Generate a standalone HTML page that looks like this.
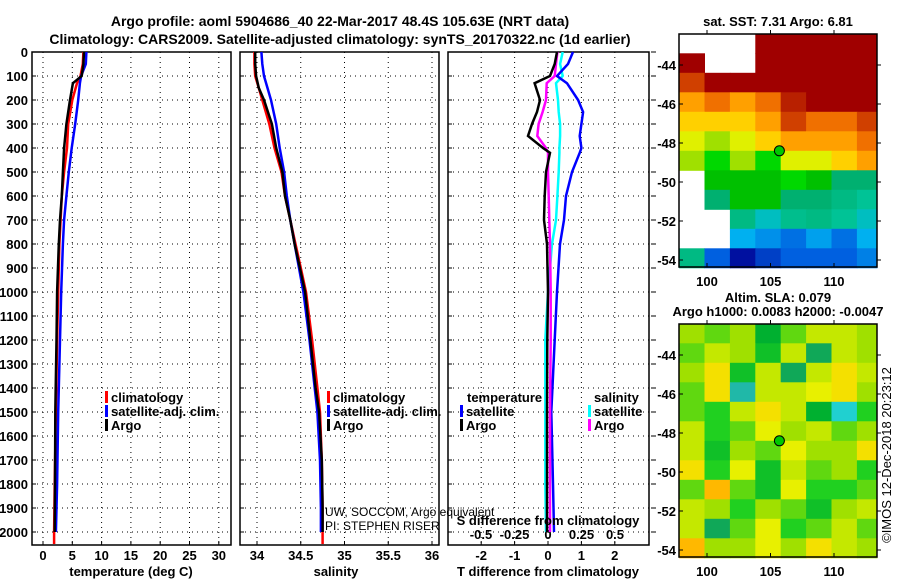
<!DOCTYPE html>
<html><head><meta charset="utf-8"><style>
html,body{margin:0;padding:0;background:#fff}
svg{display:block;font-family:"Liberation Sans",sans-serif}
text{font-weight:bold;font-size:13px;fill:#000}
</style></head><body>
<svg id="c" width="900" height="580" viewBox="0 0 900 580" xmlns="http://www.w3.org/2000/svg">
<text x="340" y="26" text-anchor="middle" style="font-size:14px">Argo profile: aoml 5904686_40 22-Mar-2017 48.4S 105.63E (NRT data)</text>
<text x="340" y="44" text-anchor="middle" style="font-size:14px">Climatology: CARS2009. Satellite-adjusted climatology: synTS_20170322.nc (1d earlier)</text>
<g id="g"></g>
</svg>
<script>
// ---------- data ----------
const depthT=[0,50,100,130,200,300,400,500,600,700,800,1000,1200,1500,1800,2000];
const tempArgo=[7.0,6.9,6.6,5.1,4.6,4.0,3.6,3.4,3.2,2.9,2.7,2.4,2.3,2.1,2.05,2.0];
const tempClim=[6.9,6.8,6.4,5.8,5.0,4.3,4.1,3.6,3.2,3.0,2.8,2.6,2.4,2.2,2.0,1.9];
const tempSat=[7.4,7.3,6.5,6.3,6.0,5.5,4.9,4.4,4.0,3.6,3.4,3.1,2.9,2.6,2.4,2.2];
const depthS=[0,50,100,150,200,300,400,500,600,700,800,900,1000,1200,1400,1500,1700,1900,2000];
const salArgo=[33.98,33.98,33.99,34.02,34.08,34.17,34.22,34.29,34.32,34.38,34.43,34.49,34.55,34.61,34.67,34.71,34.74,34.75,34.75];
const salClim=[33.97,33.97,33.98,34.02,34.06,34.14,34.2,34.28,34.32,34.38,34.44,34.5,34.56,34.63,34.69,34.72,34.74,34.75,34.75];
const salSat=[34.05,34.06,34.08,34.12,34.16,34.22,34.26,34.31,34.34,34.38,34.43,34.48,34.53,34.6,34.66,34.69,34.72,34.73,34.73];
const depthD=[0,50,100,130,200,250,300,350,400,420,500,600,700,800,1000,1200,1500,1800,2000];
const dTArgo=[0.27,0.2,0.06,-0.4,-0.24,-0.33,-0.48,-0.6,-0.15,0.06,-0.06,-0.1,-0.12,-0.03,0,-0.02,-0.03,-0.03,-0.03];
const dSArgo=[0.07,0.06,0.05,-0.01,-0.015,-0.04,-0.07,-0.08,-0.015,0,0,0.005,0.01,0.015,0.02,0.02,0.015,0.015,0.015];
const dSSat=[0.11,0.09,0.11,0.06,0.075,0.08,0.09,0.09,0.085,0.085,0.08,0.07,0.06,0.03,0,-0.02,-0.02,-0.02,-0.015];
const dTSat=[0.75,0.6,0.27,0.57,0.9,1.05,1.0,0.95,1.0,0.95,0.72,0.54,0.48,0.36,0.27,0.2,0.1,0.15,0.18];
const depthTicks=[0,100,200,300,400,500,600,700,800,900,1000,1100,1200,1300,1400,1500,1600,1700,1800,1900,2000];
const tempTicks=[0,5,10,15,20,25,30];
const salTicks=[34,34.5,35,35.5,36];
const salTickLabels=["34","34.5","35","35.5","36"];
const dTTicks=[-2,-1,0,1,2];
const dSTicks=[-0.5,-0.25,0,0.25,0.5];
const dSTickLabels=["-0.5","-0.25","0","0.25","0.5"];
const mapLonTicks=[100,105,110];
const mapLatTicks=[-44,-46,-48,-50,-52,-54];
const floatLon=105.7, floatLat=-48.4;
// SST grid: rows 1deg lat from -42.4, cols 2deg lon from 97.8 (0 = missing)
const sstGrid=[
[0,0,0,10,10,10,10,10],
[10,0,0,10,10,10,10,10],
[9,10,10,10,10,10,10,10],
[8,8.5,8,8.5,9.5,10,10,10],
[7.5,7.5,7.5,8,9,8.5,8.5,9],
[7,6.5,7,7.5,8,8,8,8.5],
[6.5,6,6.5,6,7,7,7.5,8],
[0,5.5,5.5,5.5,6,5.5,5,5],
[0,5,5.5,5.5,5,5,4.8,4.6],
[0,0,4.8,4.3,4.7,4.8,4.6,4.3],
[0,0,4,3.8,3.6,3.9,3.6,4],
[4.8,3.5,3,3.3,3.5,3.5,3.5,3.7]];
const slaGrid=[
[0.2,0.1,0.2,-0.2,0.1,0.3,0.3,0.2],
[0.1,0.3,0.2,-0.1,0.3,-0.3,0.3,0.2],
[0.2,0.5,-0.1,0.3,-0.3,0.3,0.5,0.3],
[0.1,0.5,-0.5,0.3,0.3,0.4,0.5,0.2],
[0.1,0,0.3,0.5,0.3,-0.2,-0.6,0],
[0.3,0,0.1,0.4,0.2,0.3,0.1,0.2],
[0.3,-0.1,0.2,0.1,0.4,0.2,0.2,0.5],
[0.5,0,0.4,-0.1,0.3,0.1,0.2,0],
[0.1,0.7,0.1,-0.1,0.4,0,0,0.1],
[0.3,0.2,0,0.2,0.1,-0.1,0.2,0.3],
[0.3,-0.3,0.1,0.4,0,0.1,0.3,0.1],
[0.7,0.2,0.2,0.4,0.2,0.5,0.3,0.2]];

// ---------- helpers ----------
const NS="http://www.w3.org/2000/svg";
const G=document.getElementById('g');
function el(tag,attrs,parent){const e=document.createElementNS(NS,tag);for(const k in attrs)e.setAttribute(k,attrs[k]);(parent||G).appendChild(e);return e;}
function txt(x,y,s,anchor,style,parent){const t=el('text',{x:x,y:y,'text-anchor':anchor||'middle'},parent);if(style)t.setAttribute('style',style);t.textContent=s;return t;}
const TOP=52, BOT=545;
const yD=d=>TOP+0.24*d;
const panels=[
 {x0:32,x1:231,f:v=>43+5.86*v,name:'temperature-panel'},
 {x0:240,x1:439,f:v=>257+87.5*(v-34),name:'salinity-panel'},
 {x0:448,x1:649,f:v=>548+33.4*v,name:'difference-panel'}];
function gridPanel(p,xt){
 const g=el('g',{});
 
 
 depthTicks.forEach(d=>{const l=el('line',{x1:p.x0,x2:p.x1,y1:yD(d),y2:yD(d),stroke:'#000','stroke-width':1,'stroke-dasharray':'1,4'},g);
  
  el('line',{x1:p.x0,x2:p.x0+4,y1:yD(d),y2:yD(d),stroke:'#000'},g);});
 xt.forEach(v=>{const x=p.f(v);const l=el('line',{x1:x,x2:x,y1:TOP,y2:BOT,stroke:'#000','stroke-width':1,'stroke-dasharray':'1,4'},g);
  
  el('line',{x1:x,x2:x,y1:BOT,y2:BOT-4,stroke:'#000'},g);});
 const r=el('rect',{x:p.x0,y:TOP,width:p.x1-p.x0,height:BOT-TOP,fill:'none',stroke:'#000','stroke-width':1.5},g);
 
 return g;}
function line(p,xs,ds,color,name){
 const pts=xs.map((v,i)=>p.f(v).toFixed(1)+','+yD(ds[i]).toFixed(1)).join(' ');
 const l=el('polyline',{points:pts,fill:'none',stroke:color,'stroke-width':2.5,'stroke-linejoin':'miter'});
 
 }

// panel 1
gridPanel(panels[0],tempTicks);
depthTicks.forEach(d=>{const t=txt(28,yD(d)+5,String(d),'end');});
tempTicks.forEach(v=>{const t=txt(panels[0].f(v),560,String(v));});
line(panels[0],tempClim.concat([1.9]),depthT.concat([2050]),'#f00','temperature-climatology-line');
line(panels[0],tempSat,depthT,'#00f','temperature-satellite-line');
line(panels[0],tempArgo,depthT,'#000','temperature-argo-line');
// panel 2
gridPanel(panels[1],salTicks);
salTicks.forEach((v,i)=>{const t=txt(panels[1].f(v),560,salTickLabels[i]);});
line(panels[1],salClim.concat([34.75]),depthS.concat([2050]),'#f00','salinity-climatology-line');
line(panels[1],salSat,depthS,'#00f','salinity-satellite-line');
line(panels[1],salArgo,depthS,'#000','salinity-argo-line');
// panel 3
gridPanel(panels[2],dTTicks);
depthTicks.forEach(d=>el('line',{x1:651,x2:656,y1:yD(d),y2:yD(d),stroke:'#000'}));
dTTicks.forEach(v=>{const t=txt(panels[2].f(v),560,String(v));});
const fS=v=>548+134*v;
dSTicks.forEach((v,i)=>{const t=txt(fS(v),539,dSTickLabels[i]);});
line({f:fS},dSSat,depthD,'#0ff','salinity-diff-satellite-line');
line(panels[2],dTSat,depthD,'#00f','temperature-diff-satellite-line');
line({f:fS},dSArgo,depthD,'#f0f','salinity-diff-argo-line');
line(panels[2],dTArgo,depthD,'#000','temperature-diff-argo-line');

// legends
function leg(x,y,color,label,name){
 const g=el('g',{});
 el('rect',{x:x,y:y-11,width:3,height:12,fill:color},g);txt(x+6,y,label,'start',null,g);}
[['#f00','climatology'],['#00f','satellite-adj. clim.'],['#000','Argo']].forEach((a,i)=>{
 leg(105,402+i*14,a[0],a[1],'legend-entry-temp');leg(327,402+i*14,a[0],a[1],'legend-entry-sal');});
txt(467,402,'temperature','start');txt(594,402,'salinity','start');
leg(460,416,'#00f','satellite','legend-entry-dt-sat');leg(460,430,'#000','Argo','legend-entry-dt-argo');
leg(588,416,'#0ff','satellite','legend-entry-ds-sat');leg(588,430,'#f0f','Argo','legend-entry-ds-argo');
txt(325,516,'UW, SOCCOM, Argo equivalent','start','font-weight:normal;font-size:12px');
txt(325,530,'PI: STEPHEN RISER','start','font-weight:normal;font-size:12px');
txt(548,525,'S difference from climatology');
txt(131,576,'temperature (deg C)');txt(336,576,'salinity');txt(548,576,'T difference from climatology');

// maps
const MX0=679,MX1=877;
const mx=lon=>707+(lon-100)*12.7;
function sstColor(v){
 const s=[[3,[0,16,160]],[3.5,[0,96,224]],[4,[0,176,240]],[4.5,[0,200,160]],[5,[0,176,112]],[5.5,[0,192,0]],[6,[0,216,0]],[6.5,[160,224,0]],[7,[224,240,0]],[7.5,[255,208,0]],[8,[255,160,0]],[8.5,[240,112,0]],[9,[208,64,0]],[10,[160,0,0]]];
 return interpColor(s,v);}
function slaColor(v){
 const s=[[-0.6,[32,208,208]],[-0.4,[32,160,128]],[-0.2,[0,176,48]],[0,[32,208,32]],[0.2,[160,224,0]],[0.4,[232,240,0]],[0.6,[255,208,0]],[0.8,[255,160,0]]];
 return interpColor(s,v);}
function interpColor(s,v){
 if(v<=s[0][0])return 'rgb('+s[0][1]+')';
 for(let i=1;i<s.length;i++){if(v<=s[i][0]){const t=(v-s[i-1][0])/(s[i][0]-s[i-1][0]);const c=s[i-1][1].map((a,k)=>Math.round(a+(s[i][1][k]-a)*t));return 'rgb('+c+')';}}
 return 'rgb('+s[s.length-1][1]+')';}
function drawMap(top,grid,colorFn,name){
 const my=lat=>top+31+(-44-lat)*19.5;
 const g=el('g',{});
 grid.forEach((row,r)=>row.forEach((v,c)=>{
  if(v===0&&colorFn===sstColor)return;
  const x=mx(97.8+2*c),x2=Math.min(mx(97.8+2*c+2),MX1);
  const y=my(-42.4-r),y2=my(-43.4-r);
  const cell=el('rect',{x:x.toFixed(1),y:y.toFixed(1),width:(x2-x+0.5).toFixed(1),height:(y2-y+0.5).toFixed(1),fill:colorFn(v)},g);
  }));
 el('rect',{x:MX0,y:top,width:MX1-MX0,height:233,fill:'none',stroke:'#000','stroke-width':1.5},g);
 mapLatTicks.forEach(l=>{const y=my(l);el('line',{x1:MX0,x2:MX0+4,y1:y,y2:y,stroke:'#000'},g);el('line',{x1:MX1,x2:MX1+4,y1:y,y2:y,stroke:'#000'},g);
  const t=txt(676,y+5,String(l),'end',null,g);});
 mapLonTicks.forEach(l=>{const x=mx(l);el('line',{x1:x,x2:x,y1:top,y2:top-4,stroke:'#000'},g);el('line',{x1:x,x2:x,y1:top+233,y2:top+229,stroke:'#000'},g);
  const t=txt(x,top+252,String(l),'middle',null,g);});
 const m=el('circle',{cx:mx(floatLon),cy:my(floatLat),r:5,fill:'#00c800',stroke:'#000','stroke-width':1},g);
 }
drawMap(34,sstGrid,sstColor,'sst-map');
drawMap(324,slaGrid,slaColor,'sla-map');
txt(778,26,'sat. SST: 7.31 Argo: 6.81');
txt(778,302,'Altim. SLA: 0.079');
txt(778,316,'Argo h1000: 0.0083 h2000: -0.0047');
const c=txt(0,0,'©IMOS 12-Dec-2018 20:23:12','middle','font-weight:normal;font-size:13px');
c.setAttribute('transform','translate(891,455) rotate(-90)');

</script>
</body></html>
